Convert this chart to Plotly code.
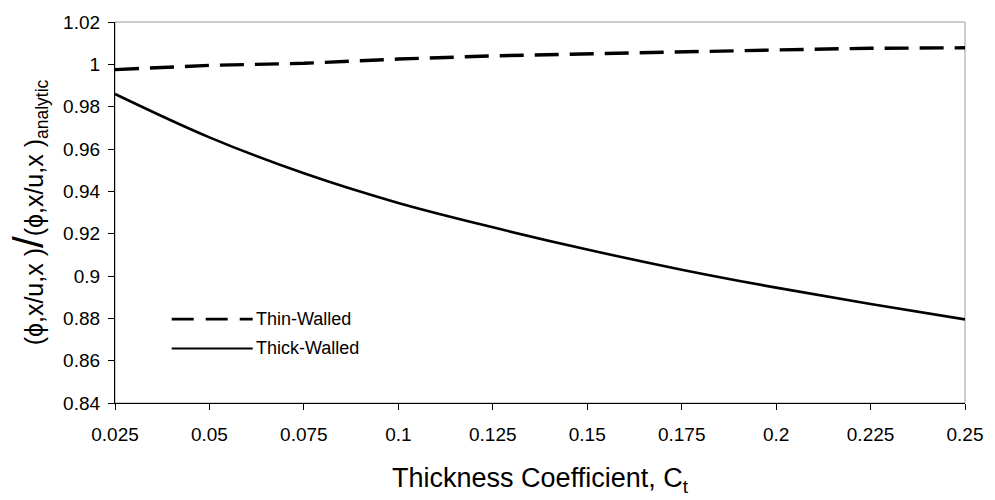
import plotly.graph_objects as go

# Thickness coefficient sample points
thickness_coeff = [0.025, 0.05, 0.075, 0.1, 0.125, 0.15, 0.175, 0.2, 0.225, 0.25]

# Normalised ratio (phi,x/u,x) / (phi,x/u,x)_analytic
thin_walled = [0.9975, 0.9995, 1.0005, 1.0025, 1.0040, 1.0050, 1.0060, 1.0068, 1.0076, 1.0078]
thick_walled = [0.986, 0.9655, 0.9485, 0.9345, 0.923, 0.9125, 0.903, 0.8945, 0.8868, 0.8795]

x_ticks = [0.025, 0.05, 0.075, 0.1, 0.125, 0.15, 0.175, 0.2, 0.225, 0.25]
x_tick_text = ["0.025", "0.05", "0.075", "0.1", "0.125", "0.15", "0.175", "0.2", "0.225", "0.25"]
y_ticks = [0.84, 0.86, 0.88, 0.9, 0.92, 0.94, 0.96, 0.98, 1.0, 1.02]
y_tick_text = ["0.84", "0.86", "0.88", "0.9", "0.92", "0.94", "0.96", "0.98", "1", "1.02"]

FONT = "Liberation Sans, Arial, sans-serif"
X_RANGE = [0.025, 0.25]
Y_RANGE = [0.84, 1.02]

fig = go.Figure()

fig.add_trace(go.Scatter(
    x=thickness_coeff, y=thin_walled, mode="lines", name="Thin-Walled",
    line=dict(color="black", width=3.4, dash="24px,11px"), cliponaxis=False,
))
fig.add_trace(go.Scatter(
    x=thickness_coeff, y=thick_walled, mode="lines", name="Thick-Walled",
    line=dict(color="black", width=2.6, shape="spline", smoothing=1.0), cliponaxis=False,
))

# Hand-built legend with long line samples
leg_x0, leg_x1 = 0.0667, 0.162
leg_rows = [("Thin-Walled", "22px,12px", 2.8, 0.2204), ("Thick-Walled", "solid", 2.2, 0.1431)]
for label, dash, w, yy in leg_rows:
    fig.add_shape(type="line", xref="paper", yref="paper",
                  x0=leg_x0, x1=leg_x1, y0=yy, y1=yy,
                  line=dict(color="black", width=w, dash=dash))
    fig.add_annotation(xref="paper", yref="paper", x=leg_x1 + 0.001, y=yy,
                       text=label, showarrow=False, xanchor="left", yanchor="middle",
                       font=dict(family=FONT, size=18, color="black"))

# Light frame on top/right of the plotting area
fig.add_shape(type="rect", xref="paper", yref="paper", x0=0, x1=1, y0=0, y1=1,
              line=dict(color="#9a9a9a", width=1), layer="below")

axis_common = dict(showgrid=False, zeroline=False, showline=True, linecolor="black",
                   linewidth=1.2, ticks="outside", ticklen=6, tickcolor="black",
                   tickwidth=1, tickfont=dict(family=FONT, size=19, color="black"))

y_title = ("(ϕ,x/u,x )<span style='font-size:42px'>/</span>"
           "(ϕ,x/u,x )<sub>analytic</sub>")

fig.update_layout(
    width=995, height=500,
    margin=dict(l=115, r=25, t=16, b=96),
    paper_bgcolor="white", plot_bgcolor="white",
    showlegend=False,
    font=dict(family=FONT, color="black"),
    xaxis=dict(range=X_RANGE, tickvals=x_ticks, ticktext=x_tick_text,
               ticklabelstandoff=8,
               title=dict(text="Thickness Coefficient, C<sub>t</sub>",
                          font=dict(family=FONT, size=27), standoff=24),
               **axis_common),
    yaxis=dict(range=Y_RANGE, tickvals=y_ticks, ticktext=y_tick_text,
               ticklabelstandoff=4,
               title=dict(text=y_title, font=dict(family=FONT, size=25), standoff=12),
               **axis_common),
    xaxis2=dict(range=X_RANGE, overlaying="x", anchor="y", side="bottom",
                tickvals=x_ticks, showticklabels=False, ticks="inside", ticklen=5,
                tickcolor="black", showgrid=False, zeroline=False, showline=False),
    yaxis2=dict(range=Y_RANGE, overlaying="y", anchor="x", side="left",
                tickvals=y_ticks, showticklabels=False, ticks="inside", ticklen=5,
                tickcolor="black", showgrid=False, zeroline=False, showline=False),
)

fig.write_html("out.html")
